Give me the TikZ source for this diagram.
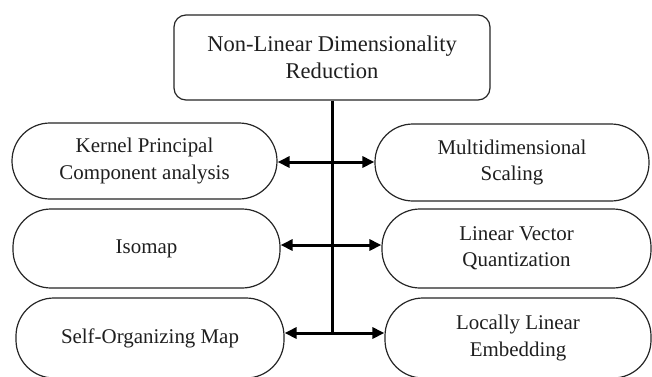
\documentclass[tikz,border=0pt]{standalone}
\usepackage{fontspec}
\setmainfont{Liberation Serif}
\newfontfamily\boxfont{Liberation Serif}
\usetikzlibrary{arrows.meta}
\begin{document}
\begin{tikzpicture}[x=1bp,y=-1bp,
  every node/.style={font=\boxfont\fontsize{21}{26.5}\selectfont, text=black!88,
    align=center, inner sep=0pt},
  titlebox/.style={draw=black!85, line width=1.2bp, rounded corners=12bp,
    minimum width=316bp, minimum height=85bp,
    font=\boxfont\fontsize{22.6}{27}\selectfont},
  pill/.style={draw=black!85, line width=1.2bp, rounded corners=38bp},
  link/.style={line width=3bp, black},
  tip/.style={link, -{Triangle[length=12bp,width=11bp]}}]
  % page frame
  \clip (0,0) rectangle (652,376);
  \fill[white] (0,0) rectangle (652,376);

  % root
  \node[titlebox] (root) at (332,57.5) {Non-Linear Dimensionality\\Reduction};

  % left column
  \node[pill, minimum width=265bp, minimum height=76bp] (kpca) at (144.5,161)
    {Kernel Principal\\Component analysis};
  \node[pill, minimum width=267bp, minimum height=79bp] (iso) at (146.5,248.5)
    {Isomap};
  \node[pill, minimum width=268bp, minimum height=80bp] (som) at (150,338)
    {Self-Organizing Map};

  % right column
  \node[pill, minimum width=274bp, minimum height=77bp] (mds) at (512,162.5)
    {Multidimensional\\Scaling};
  \node[pill, minimum width=269bp, minimum height=79bp] (lvq) at (516.5,248.5)
    {Linear Vector\\Quantization};
  \node[pill, minimum width=266bp, minimum height=80bp] (lle) at (518,338)
    {Locally Linear\\Embedding};

  % spine and junctions
  \coordinate (j1) at (332,162);
  \coordinate (j2) at (332,245);
  \coordinate (j3) at (332,333);
  \draw[link] (root.south) -- (j3);

  % branches
  \draw[tip] (j1) -- (j1 -| kpca.east);
  \draw[tip] (j1) -- (j1 -| mds.west);
  \draw[tip] (j2) -- (j2 -| iso.east);
  \draw[tip] (j2) -- (j2 -| lvq.west);
  \draw[tip] (j3) -- (j3 -| som.east);
  \draw[tip] (j3) -- (j3 -| lle.west);
\end{tikzpicture}
\end{document}
